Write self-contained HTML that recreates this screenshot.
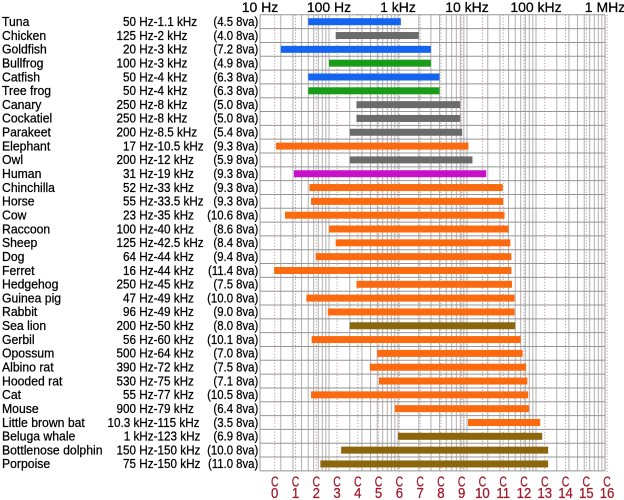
<!DOCTYPE html>
<html>
<head>
<meta charset="utf-8">
<style>
html,body{margin:0;padding:0;background:#fff;}
svg{display:block;}
text{font-family:"Liberation Sans","DejaVu Sans",sans-serif;}
.t{stroke:#000;stroke-width:0.25;}
.c{stroke:#a0182a;stroke-width:0.25;}
</style>
</head>
<body>
<svg width="624" height="500" viewBox="0 0 624 500" xmlns="http://www.w3.org/2000/svg">
<rect x="0" y="0" width="624" height="500" fill="#fff"/>

<defs>
<g id="dec" stroke="#b0b0b0" stroke-width="1">
<line x1="0" y1="14.8" x2="0" y2="470.9"/>
<line x1="20.77" y1="14.8" x2="20.77" y2="470.9"/>
<line x1="32.92" y1="14.8" x2="32.92" y2="470.9"/>
<line x1="41.54" y1="14.8" x2="41.54" y2="470.9"/>
<line x1="48.23" y1="14.8" x2="48.23" y2="470.9"/>
<line x1="53.69" y1="14.8" x2="53.69" y2="470.9"/>
<line x1="58.31" y1="14.8" x2="58.31" y2="470.9"/>
<line x1="62.31" y1="14.8" x2="62.31" y2="470.9"/>
<line x1="65.84" y1="14.8" x2="65.84" y2="470.9"/>
</g>
</defs>
<use href="#dec" x="260"/>
<use href="#dec" x="329"/>
<use href="#dec" x="398"/>
<use href="#dec" x="467"/>
<use href="#dec" x="536"/>
<line x1="605" y1="14.8" x2="605" y2="470.9" stroke="#999" stroke-width="1"/>
<line x1="260" y1="14.8" x2="260" y2="470.9" stroke="#999" stroke-width="1"/>

<g stroke="#959595" stroke-width="1">
<line x1="260" x2="605" y1="14.8" y2="14.8"/>
<line x1="260" x2="605" y1="28.62" y2="28.62"/>
<line x1="260" x2="605" y1="42.44" y2="42.44"/>
<line x1="260" x2="605" y1="56.26" y2="56.26"/>
<line x1="260" x2="605" y1="70.08" y2="70.08"/>
<line x1="260" x2="605" y1="83.9" y2="83.9"/>
<line x1="260" x2="605" y1="97.72" y2="97.72"/>
<line x1="260" x2="605" y1="111.54" y2="111.54"/>
<line x1="260" x2="605" y1="125.36" y2="125.36"/>
<line x1="260" x2="605" y1="139.18" y2="139.18"/>
<line x1="260" x2="605" y1="153" y2="153"/>
<line x1="260" x2="605" y1="166.82" y2="166.82"/>
<line x1="260" x2="605" y1="180.64" y2="180.64"/>
<line x1="260" x2="605" y1="194.46" y2="194.46"/>
<line x1="260" x2="605" y1="208.28" y2="208.28"/>
<line x1="260" x2="605" y1="222.1" y2="222.1"/>
<line x1="260" x2="605" y1="235.92" y2="235.92"/>
<line x1="260" x2="605" y1="249.74" y2="249.74"/>
<line x1="260" x2="605" y1="263.56" y2="263.56"/>
<line x1="260" x2="605" y1="277.38" y2="277.38"/>
<line x1="260" x2="605" y1="291.2" y2="291.2"/>
<line x1="260" x2="605" y1="305.02" y2="305.02"/>
<line x1="260" x2="605" y1="318.84" y2="318.84"/>
<line x1="260" x2="605" y1="332.66" y2="332.66"/>
<line x1="260" x2="605" y1="346.48" y2="346.48"/>
<line x1="260" x2="605" y1="360.3" y2="360.3"/>
<line x1="260" x2="605" y1="374.12" y2="374.12"/>
<line x1="260" x2="605" y1="387.94" y2="387.94"/>
<line x1="260" x2="605" y1="401.76" y2="401.76"/>
<line x1="260" x2="605" y1="415.58" y2="415.58"/>
<line x1="260" x2="605" y1="429.4" y2="429.4"/>
<line x1="260" x2="605" y1="443.22" y2="443.22"/>
<line x1="260" x2="605" y1="457.04" y2="457.04"/>
<line x1="260" x2="605" y1="470.86" y2="470.86"/>
</g>

<g stroke="#a88888" stroke-width="1" stroke-dasharray="1,2">
<line x1="274.74" x2="274.74" y1="14.8" y2="472"/>
<line x1="295.51" x2="295.51" y1="14.8" y2="472"/>
<line x1="316.28" x2="316.28" y1="14.8" y2="472"/>
<line x1="337.05" x2="337.05" y1="14.8" y2="472"/>
<line x1="357.82" x2="357.82" y1="14.8" y2="472"/>
<line x1="378.6" x2="378.6" y1="14.8" y2="472"/>
<line x1="399.37" x2="399.37" y1="14.8" y2="472"/>
<line x1="420.14" x2="420.14" y1="14.8" y2="472"/>
<line x1="440.91" x2="440.91" y1="14.8" y2="472"/>
<line x1="461.68" x2="461.68" y1="14.8" y2="472"/>
<line x1="482.45" x2="482.45" y1="14.8" y2="472"/>
<line x1="503.22" x2="503.22" y1="14.8" y2="472"/>
<line x1="523.99" x2="523.99" y1="14.8" y2="472"/>
<line x1="544.76" x2="544.76" y1="14.8" y2="472"/>
<line x1="565.53" x2="565.53" y1="14.8" y2="472"/>
<line x1="586.31" x2="586.31" y1="14.8" y2="472"/>
<line x1="607.08" x2="607.08" y1="14.8" y2="472"/>
</g>

<g>
<rect x="308.23" y="18.21" width="92.63" height="7" fill="#1464f0"/>
<rect x="335.69" y="32.03" width="83.08" height="7" fill="#6b6b6b"/>
<rect x="280.77" y="45.85" width="150.15" height="7" fill="#1464f0"/>
<rect x="329" y="59.67" width="101.92" height="7" fill="#179c17"/>
<rect x="308.23" y="73.49" width="131.31" height="7" fill="#1464f0"/>
<rect x="308.23" y="87.31" width="131.31" height="7" fill="#179c17"/>
<rect x="356.46" y="101.13" width="103.85" height="7" fill="#6b6b6b"/>
<rect x="356.46" y="114.95" width="103.85" height="7" fill="#6b6b6b"/>
<rect x="349.77" y="128.77" width="112.36" height="7" fill="#6b6b6b"/>
<rect x="275.9" y="142.59" width="192.56" height="7" fill="#fb6a0e"/>
<rect x="349.77" y="156.41" width="122.69" height="7" fill="#6b6b6b"/>
<rect x="293.9" y="170.23" width="192.33" height="7" fill="#c810c8"/>
<rect x="309.4" y="184.05" width="193.38" height="7" fill="#fb6a0e"/>
<rect x="311.08" y="197.87" width="192.15" height="7" fill="#fb6a0e"/>
<rect x="284.96" y="211.69" width="219.58" height="7" fill="#fb6a0e"/>
<rect x="329" y="225.51" width="179.54" height="7" fill="#fb6a0e"/>
<rect x="335.69" y="239.33" width="174.67" height="7" fill="#fb6a0e"/>
<rect x="315.63" y="253.15" width="195.77" height="7" fill="#fb6a0e"/>
<rect x="274.08" y="266.97" width="237.32" height="7" fill="#fb6a0e"/>
<rect x="356.46" y="280.79" width="155.61" height="7" fill="#fb6a0e"/>
<rect x="306.37" y="294.61" width="208.25" height="7" fill="#fb6a0e"/>
<rect x="327.78" y="308.43" width="186.84" height="7" fill="#fb6a0e"/>
<rect x="349.77" y="322.25" width="165.46" height="7" fill="#8b660d"/>
<rect x="311.63" y="336.07" width="209.06" height="7" fill="#fb6a0e"/>
<rect x="377.23" y="349.89" width="145.4" height="7" fill="#fb6a0e"/>
<rect x="369.78" y="363.71" width="156.38" height="7" fill="#fb6a0e"/>
<rect x="378.98" y="377.53" width="148.4" height="7" fill="#fb6a0e"/>
<rect x="311.08" y="391.35" width="217.09" height="7" fill="#fb6a0e"/>
<rect x="394.84" y="405.17" width="134.1" height="7" fill="#fb6a0e"/>
<rect x="467.89" y="418.99" width="72.3" height="7" fill="#fb6a0e"/>
<rect x="398" y="432.81" width="144.2" height="7" fill="#8b660d"/>
<rect x="341.15" y="446.63" width="207" height="7" fill="#8b660d"/>
<rect x="320.38" y="460.45" width="227.77" height="7" fill="#8b660d"/>
</g>

<g font-size="14" fill="#000" text-anchor="middle" class="t">
<text x="260" y="12">10 Hz</text>
<text x="329" y="12">100 Hz</text>
<text x="398" y="12">1 kHz</text>
<text x="467" y="12">10 kHz</text>
<text x="536" y="12">100 kHz</text>
<text x="605" y="12">1 MHz</text>
</g>

<g font-size="13" fill="#000" transform="scale(0.94,1)" class="t">
<text x="2.13" y="26">Tuna</text>
<text x="2.13" y="39.83">Chicken</text>
<text x="2.13" y="53.65">Goldfish</text>
<text x="2.13" y="67.47">Bullfrog</text>
<text x="2.13" y="81.29">Catfish</text>
<text x="2.13" y="95.11">Tree frog</text>
<text x="2.13" y="108.93">Canary</text>
<text x="2.13" y="122.75">Cockatiel</text>
<text x="2.13" y="136.57">Parakeet</text>
<text x="2.13" y="150.39">Elephant</text>
<text x="2.13" y="164.21">Owl</text>
<text x="2.13" y="178.03">Human</text>
<text x="2.13" y="191.85">Chinchilla</text>
<text x="2.13" y="205.67">Horse</text>
<text x="2.13" y="219.49">Cow</text>
<text x="2.13" y="233.31">Raccoon</text>
<text x="2.13" y="247.13">Sheep</text>
<text x="2.13" y="260.95">Dog</text>
<text x="2.13" y="274.77">Ferret</text>
<text x="2.13" y="288.59">Hedgehog</text>
<text x="2.13" y="302.41">Guinea pig</text>
<text x="2.13" y="316.23">Rabbit</text>
<text x="2.13" y="330.05">Sea lion</text>
<text x="2.13" y="343.87">Gerbil</text>
<text x="2.13" y="357.69">Opossum</text>
<text x="2.13" y="371.51">Albino rat</text>
<text x="2.13" y="385.33">Hooded rat</text>
<text x="2.13" y="399.15">Cat</text>
<text x="2.13" y="412.97">Mouse</text>
<text x="2.13" y="426.79">Little brown bat</text>
<text x="2.13" y="440.61">Beluga whale</text>
<text x="2.13" y="454.43">Bottlenose dolphin</text>
<text x="2.13" y="468.25">Porpoise</text>
</g>

<g font-size="13" fill="#000" transform="scale(0.9,1)" text-anchor="end" class="t">
<text x="175" y="26">50 Hz-</text>
<text x="175" y="39.83">125 Hz-</text>
<text x="175" y="53.65">20 Hz-</text>
<text x="175" y="67.47">100 Hz-</text>
<text x="175" y="81.29">50 Hz-</text>
<text x="175" y="95.11">50 Hz-</text>
<text x="175" y="108.93">250 Hz-</text>
<text x="175" y="122.75">250 Hz-</text>
<text x="175" y="136.57">200 Hz-</text>
<text x="175" y="150.39">17 Hz-</text>
<text x="175" y="164.21">200 Hz-</text>
<text x="175" y="178.03">31 Hz-</text>
<text x="175" y="191.85">52 Hz-</text>
<text x="175" y="205.67">55 Hz-</text>
<text x="175" y="219.49">23 Hz-</text>
<text x="175" y="233.31">100 Hz-</text>
<text x="175" y="247.13">125 Hz-</text>
<text x="175" y="260.95">64 Hz-</text>
<text x="175" y="274.77">16 Hz-</text>
<text x="175" y="288.59">250 Hz-</text>
<text x="175" y="302.41">47 Hz-</text>
<text x="175" y="316.23">96 Hz-</text>
<text x="175" y="330.05">200 Hz-</text>
<text x="175" y="343.87">56 Hz-</text>
<text x="175" y="357.69">500 Hz-</text>
<text x="175" y="371.51">390 Hz-</text>
<text x="175" y="385.33">530 Hz-</text>
<text x="175" y="399.15">55 Hz-</text>
<text x="175" y="412.97">900 Hz-</text>
<text x="175" y="426.79">10.3 kHz-</text>
<text x="175" y="440.61">1 kHz-</text>
<text x="175" y="454.43">150 Hz-</text>
<text x="175" y="468.25">75 Hz-</text>
</g>
<g font-size="13" fill="#000" transform="scale(0.9,1)" text-anchor="start" class="t">
<text x="175" y="26">1.1 kHz</text>
<text x="175" y="39.83">2 kHz</text>
<text x="175" y="53.65">3 kHz</text>
<text x="175" y="67.47">3 kHz</text>
<text x="175" y="81.29">4 kHz</text>
<text x="175" y="95.11">4 kHz</text>
<text x="175" y="108.93">8 kHz</text>
<text x="175" y="122.75">8 kHz</text>
<text x="175" y="136.57">8.5 kHz</text>
<text x="175" y="150.39">10.5 kHz</text>
<text x="175" y="164.21">12 kHz</text>
<text x="175" y="178.03">19 kHz</text>
<text x="175" y="191.85">33 kHz</text>
<text x="175" y="205.67">33.5 kHz</text>
<text x="175" y="219.49">35 kHz</text>
<text x="175" y="233.31">40 kHz</text>
<text x="175" y="247.13">42.5 kHz</text>
<text x="175" y="260.95">44 kHz</text>
<text x="175" y="274.77">44 kHz</text>
<text x="175" y="288.59">45 kHz</text>
<text x="175" y="302.41">49 kHz</text>
<text x="175" y="316.23">49 kHz</text>
<text x="175" y="330.05">50 kHz</text>
<text x="175" y="343.87">60 kHz</text>
<text x="175" y="357.69">64 kHz</text>
<text x="175" y="371.51">72 kHz</text>
<text x="175" y="385.33">75 kHz</text>
<text x="175" y="399.15">77 kHz</text>
<text x="175" y="412.97">79 kHz</text>
<text x="175" y="426.79">115 kHz</text>
<text x="175" y="440.61">123 kHz</text>
<text x="175" y="454.43">150 kHz</text>
<text x="175" y="468.25">150 kHz</text>
</g>

<g font-size="13" fill="#000" transform="scale(0.875,1)" text-anchor="end" class="t">
<text x="295.2" y="26">(4.5 8va)</text>
<text x="295.2" y="39.83">(4.0 8va)</text>
<text x="295.2" y="53.65">(7.2 8va)</text>
<text x="295.2" y="67.47">(4.9 8va)</text>
<text x="295.2" y="81.29">(6.3 8va)</text>
<text x="295.2" y="95.11">(6.3 8va)</text>
<text x="295.2" y="108.93">(5.0 8va)</text>
<text x="295.2" y="122.75">(5.0 8va)</text>
<text x="295.2" y="136.57">(5.4 8va)</text>
<text x="295.2" y="150.39">(9.3 8va)</text>
<text x="295.2" y="164.21">(5.9 8va)</text>
<text x="295.2" y="178.03">(9.3 8va)</text>
<text x="295.2" y="191.85">(9.3 8va)</text>
<text x="295.2" y="205.67">(9.3 8va)</text>
<text x="295.2" y="219.49">(10.6 8va)</text>
<text x="295.2" y="233.31">(8.6 8va)</text>
<text x="295.2" y="247.13">(8.4 8va)</text>
<text x="295.2" y="260.95">(9.4 8va)</text>
<text x="295.2" y="274.77">(11.4 8va)</text>
<text x="295.2" y="288.59">(7.5 8va)</text>
<text x="295.2" y="302.41">(10.0 8va)</text>
<text x="295.2" y="316.23">(9.0 8va)</text>
<text x="295.2" y="330.05">(8.0 8va)</text>
<text x="295.2" y="343.87">(10.1 8va)</text>
<text x="295.2" y="357.69">(7.0 8va)</text>
<text x="295.2" y="371.51">(7.5 8va)</text>
<text x="295.2" y="385.33">(7.1 8va)</text>
<text x="295.2" y="399.15">(10.5 8va)</text>
<text x="295.2" y="412.97">(6.4 8va)</text>
<text x="295.2" y="426.79">(3.5 8va)</text>
<text x="295.2" y="440.61">(6.9 8va)</text>
<text x="295.2" y="454.43">(10.0 8va)</text>
<text x="295.2" y="468.25">(11.0 8va)</text>
</g>

<g font-size="15" fill="#a0182a" text-anchor="middle" transform="scale(0.7,1)" class="c">
<text x="392.49" y="486.5">C</text>
<text x="422.16" y="486.5">C</text>
<text x="451.83" y="486.5">C</text>
<text x="481.5" y="486.5">C</text>
<text x="511.17" y="486.5">C</text>
<text x="540.86" y="486.5">C</text>
<text x="570.53" y="486.5">C</text>
<text x="600.2" y="486.5">C</text>
<text x="629.87" y="486.5">C</text>
<text x="659.54" y="486.5">C</text>
<text x="689.21" y="486.5">C</text>
<text x="718.89" y="486.5">C</text>
<text x="748.56" y="486.5">C</text>
<text x="778.23" y="486.5">C</text>
<text x="807.9" y="486.5">C</text>
<text x="837.59" y="486.5">C</text>
<text x="867.26" y="486.5">C</text>
</g>
<g font-size="15" fill="#a0182a" text-anchor="middle" transform="scale(0.88,1)" class="c">
<text x="312.2" y="498">0</text>
<text x="335.81" y="498">1</text>
<text x="359.41" y="498">2</text>
<text x="383.01" y="498">3</text>
<text x="406.61" y="498">4</text>
<text x="430.23" y="498">5</text>
<text x="453.83" y="498">6</text>
<text x="477.43" y="498">7</text>
<text x="501.03" y="498">8</text>
<text x="524.64" y="498">9</text>
<text x="548.24" y="498">10</text>
<text x="571.84" y="498">11</text>
<text x="595.44" y="498">12</text>
<text x="619.05" y="498">13</text>
<text x="642.65" y="498">14</text>
<text x="666.26" y="498">15</text>
<text x="689.86" y="498">16</text>
</g>
</svg>
</body>
</html>
